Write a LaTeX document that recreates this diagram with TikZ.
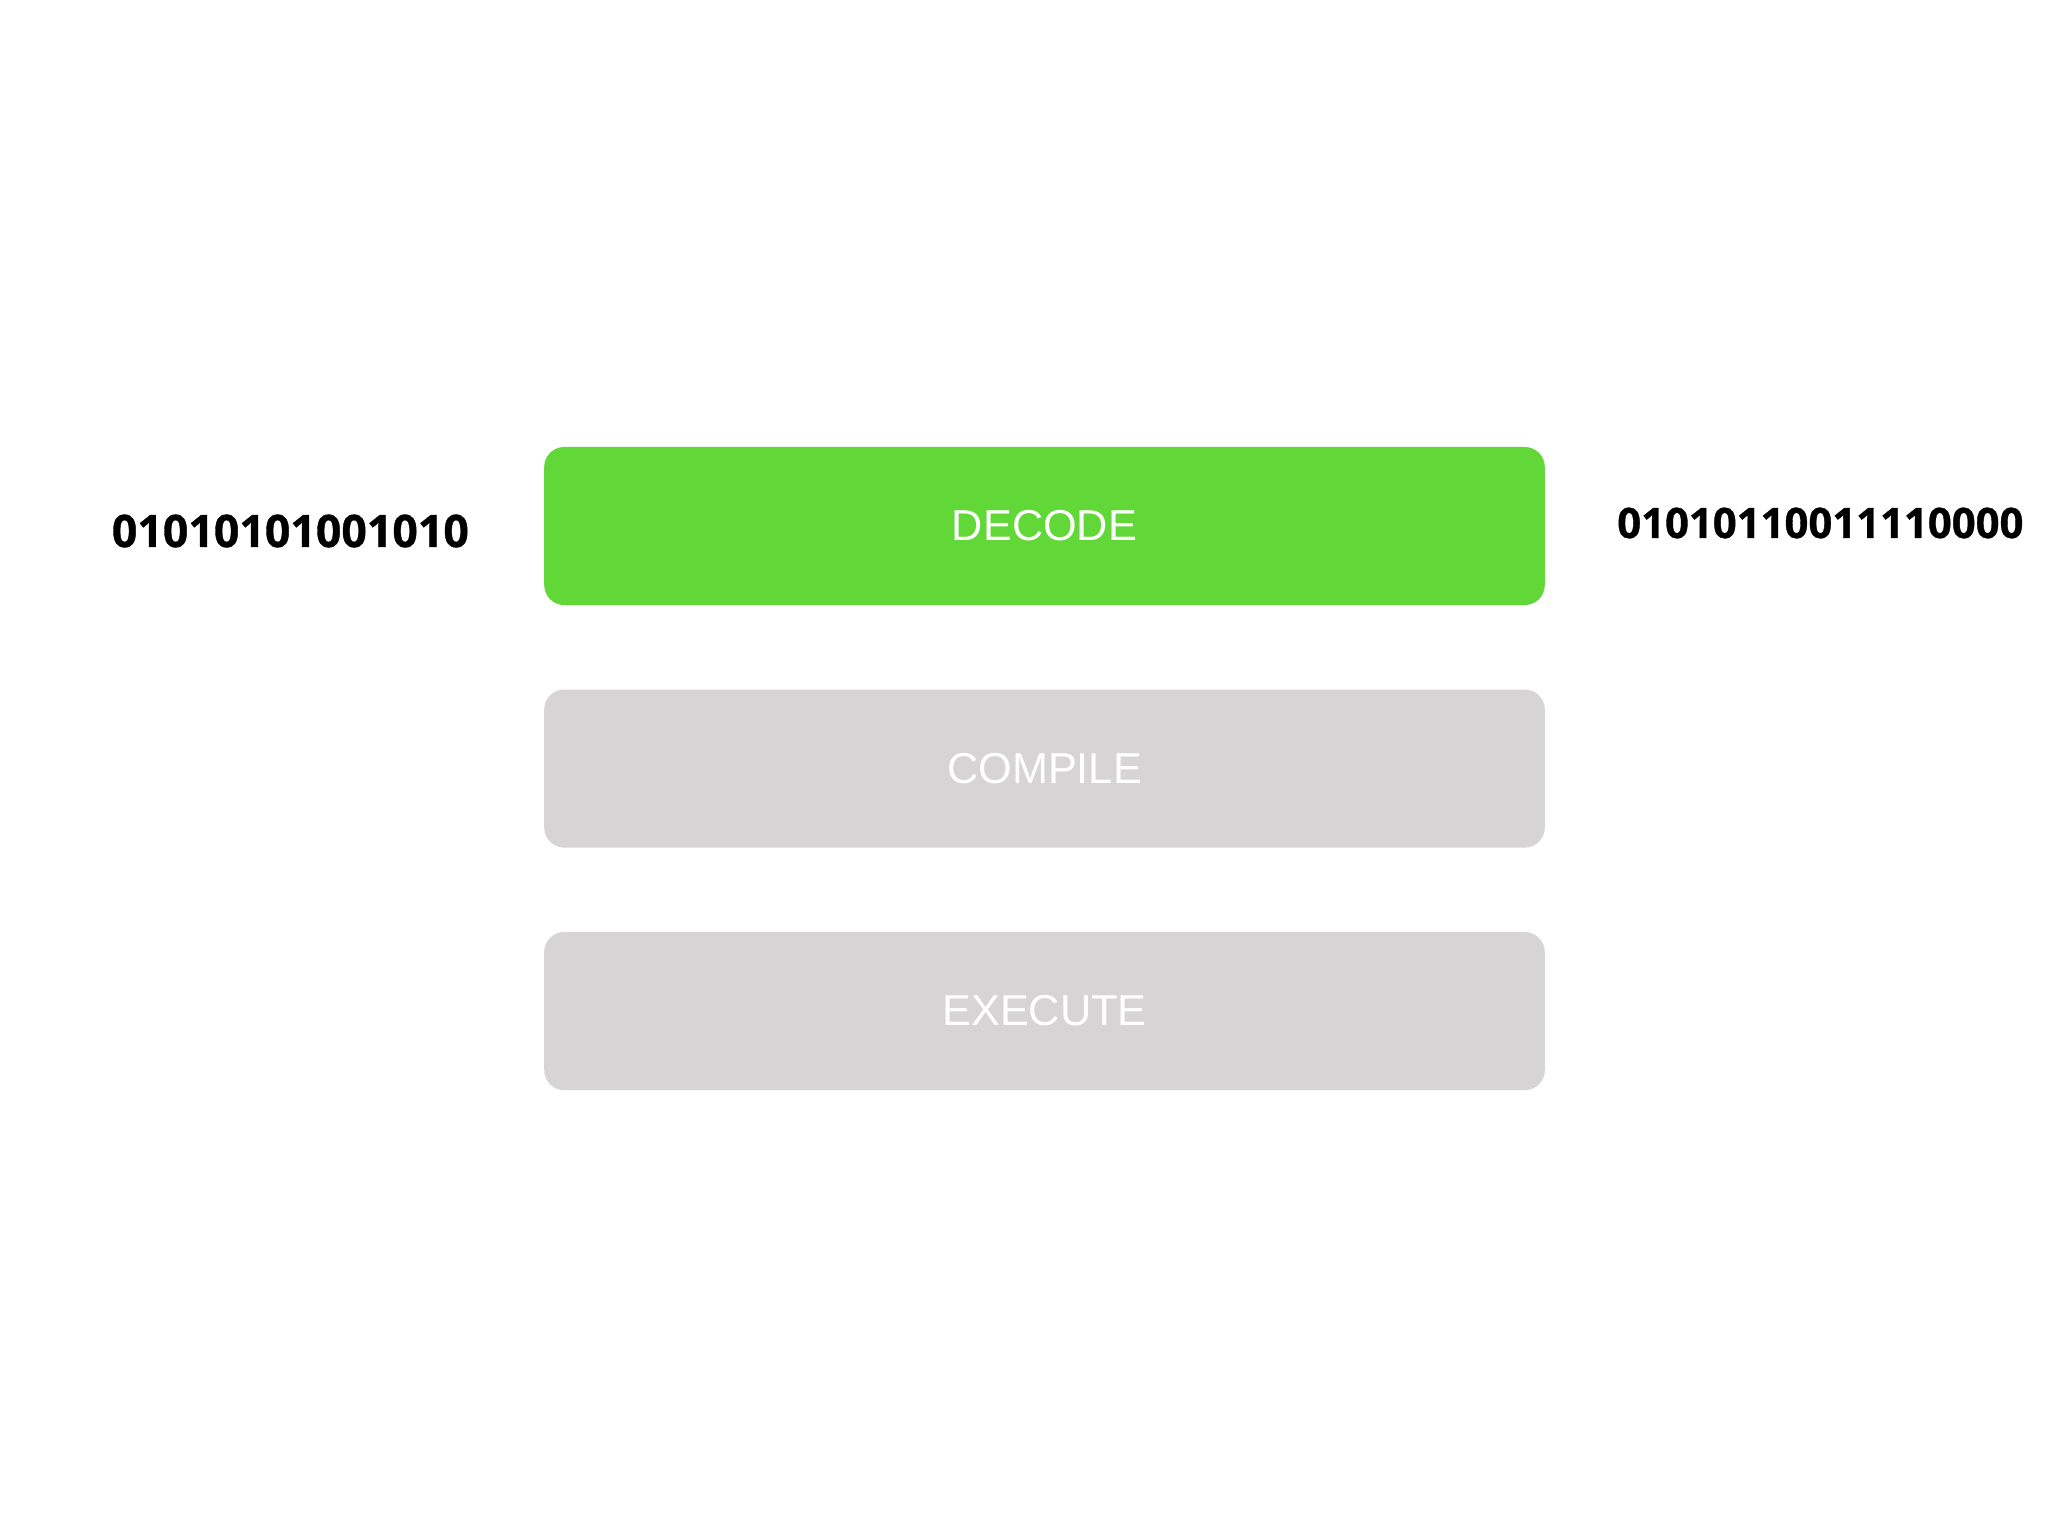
\documentclass[tikz,border=0pt]{standalone}
\usepackage{fontspec}
\setmainfont{Liberation Sans}
\newfontfamily\bitfont{Open Sans}[BoldFeatures={FakeBold=0.8}]
\usepackage{tikz}
\usetikzlibrary{positioning}
\definecolor{stagegreen}{HTML}{62D838}
\definecolor{stagegray}{HTML}{D6D4D5}
\tikzset{
  stagebox/.style={rectangle, rounded corners=0.2cm, minimum width=10cm, minimum height=1.58cm,
    text=white, font=\fontsize{12.3}{12.3}\selectfont, inner sep=0pt},
  bits/.style={font=\bitfont\bfseries\fontsize{#1}{#1}\selectfont, inner sep=0pt}
}
\begin{document}
\begin{tikzpicture}[x=0.01cm,y=-0.01cm]
\useasboundingbox (0,0) rectangle (2048,1536);
\fill[white] (0,0) rectangle (2048,1536);
\node[stagebox, fill=stagegreen] (decode) at (1044.5,526) {DECODE};
\node[stagebox, fill=stagegray, below=0.83cm of decode] (compile) {COMPILE};
\node[stagebox, fill=stagegray, below=0.83cm of compile] (execute) {EXECUTE};
\node[bits=12.7, left=0.74cm of decode, yshift=-0.05cm] (input) {01010101001010};
\node[bits=11.9, right=0.71cm of decode, yshift=0.03cm] (output) {01010110011110000};
\end{tikzpicture}
\end{document}
